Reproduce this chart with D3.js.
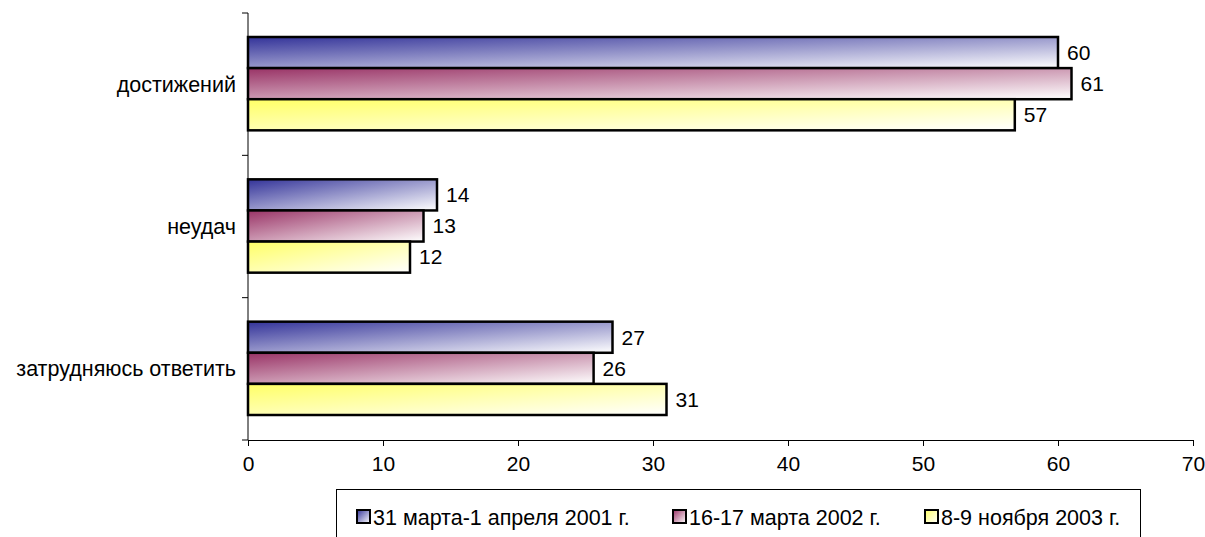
<!DOCTYPE html>
<html>
<head>
<meta charset="utf-8">
<script src="https://cdn.jsdelivr.net/npm/d3@7"></script>
<style>
  html, body { margin: 0; padding: 0; background: #fff; }
  svg { display: block; font-family: Arial, "Liberation Sans", sans-serif; }
</style>
</head>
<body>
<svg id="chart" width="1205" height="537"></svg>
<script>
const categories = ["достижений", "неудач", "затрудняюсь ответить"]
const seriesNames = ["31 марта-1 апреля 2001 г.", "16-17 марта 2002 г.", "8-9 ноября 2003 г."]
const values2001 = [60, 14, 27]
const values2002 = [61, 13, 25.6]
const values2003 = [56.8, 12, 31]
const valueLabels = [[60, 14, 27], [61, 13, 26], [57, 12, 31]]
const xTicks = [0, 10, 20, 30, 40, 50, 60, 70]
const seriesColors = ["#333399", "#993366", "#ffff66"]

const series = [values2001, values2002, values2003]

const svg = d3.select("#chart")
const m = {left: 248, top: 13}
const plotBottom = 440
const textSize = 21.5
const numSize = 21

const x = d3.scaleLinear().domain([0, 70]).range([m.left, 1193])
const y = d3.scaleBand().domain(categories).range([m.top, plotBottom])
const inner = d3.scaleBand().domain(d3.range(series.length)).range([24, y.bandwidth() - 25])

// diagonal gradients like Excel fills
const defs = svg.append("defs")
seriesColors.forEach((c, i) => {
  const grad = defs.append("linearGradient")
    .attr("id", "grad" + i)
    .attr("x1", 0).attr("y1", 0).attr("x2", 1).attr("y2", 1)
  grad.append("stop").attr("offset", "0%").attr("stop-color", c)
  grad.append("stop").attr("offset", "100%").attr("stop-color", "#ffffff")
})

// bars
const g = svg.append("g")
series.forEach((vals, si) => {
  g.selectAll(null)
    .data(categories)
    .join("rect")
    .attr("x", x(0))
    .attr("y", (d) => y(d) + inner(si))
    .attr("width", (d, i) => x(vals[i]) - x(0))
    .attr("height", inner.bandwidth())
    .attr("fill", `url(#grad${si})`)
    .attr("stroke", "#000")
    .attr("stroke-width", 2.5)

  g.selectAll(null)
    .data(categories)
    .join("text")
    .attr("x", (d, i) => x(vals[i]) + 9)
    .attr("y", (d) => y(d) + inner(si) + inner.bandwidth() / 2)
    .attr("dy", "0.35em")
    .attr("font-size", numSize)
    .attr("fill", "#000")
    .text((d, i) => valueLabels[si][i])
})

// x axis
svg.append("g")
  .attr("transform", `translate(0,${plotBottom})`)
  .call(d3.axisBottom(x).tickValues(xTicks).tickSize(6).tickSizeOuter(0).tickPadding(10))
  .call((gg) => gg.select(".domain").attr("stroke", "#000"))
  .call((gg) => gg.selectAll("text").attr("font-size", numSize).attr("fill", "#000").attr("font-family", "Arial, 'Liberation Sans', sans-serif"))

// y axis: ticks at category boundaries
svg.append("line")
  .attr("x1", x(0)).attr("x2", x(0))
  .attr("y1", m.top).attr("y2", plotBottom)
  .attr("stroke", "#000")
const bounds = categories.map((c) => y(c)).concat([plotBottom])
svg.append("g").selectAll("line")
  .data(bounds)
  .join("line")
  .attr("x1", x(0) - 6).attr("x2", x(0))
  .attr("y1", (d) => d).attr("y2", (d) => d)
  .attr("stroke", "#000")

svg.append("g").selectAll("text")
  .data(categories)
  .join("text")
  .attr("x", 236)
  .attr("y", (d) => y(d) + y.bandwidth() / 2)
  .attr("dy", "0.35em")
  .attr("text-anchor", "end")
  .attr("font-size", textSize)
  .attr("fill", "#000")
  .text((d) => d)

// legend
const lg = svg.append("g")
lg.append("rect")
  .attr("x", 336.5).attr("y", 489.5)
  .attr("width", 804).attr("height", 60)
  .attr("fill", "#fff").attr("stroke", "#000")
const legendX = [357, 673, 925]
seriesNames.forEach((name, i) => {
  lg.append("rect")
    .attr("x", legendX[i]).attr("y", 510)
    .attr("width", 13).attr("height", 13)
    .attr("fill", `url(#grad${i})`)
    .attr("stroke", "#000").attr("stroke-width", 2)
  lg.append("text")
    .attr("x", legendX[i] + 16).attr("y", 517)
    .attr("dy", "0.35em")
    .attr("font-size", textSize)
    .attr("fill", "#000")
    .text(name)
})
</script>
</body>
</html>
